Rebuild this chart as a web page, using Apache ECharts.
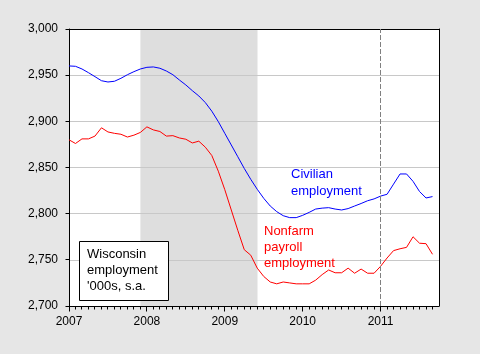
<!DOCTYPE html>
<html>
<head>
<meta charset="utf-8">
<script src="https://cdn.jsdelivr.net/npm/echarts@6/dist/echarts.min.js"></script>
<style>
  html, body { margin: 0; padding: 0; background: #e6e6e6; }
  #main { width: 480px; height: 354px; }
</style>
</head>
<body>
<div id="main"></div>
<script>
// monthly, Jan 2007 .. Sep 2011, thousands, s.a.
var startYear = 2007;
var civilian = [2960, 2959.6, 2956.7, 2952.7, 2948.4, 2944, 2942.6, 2943.4, 2946.6, 2950.5,
  2953.8, 2956.7, 2958.5, 2958.9, 2957.5, 2954.5, 2950.5, 2944.8, 2939.4, 2933.2,
  2927.5, 2920.3, 2911, 2899.7, 2887, 2874.4, 2861.7, 2849, 2837.2, 2826.4,
  2816.6, 2808.3, 2802.2, 2797.8, 2795.7, 2795.7, 2798.2, 2801.4, 2805, 2806,
  2806.5, 2805, 2804, 2805.5, 2808.3, 2811, 2814, 2816, 2819, 2821,
  2832, 2843, 2843, 2835, 2824, 2817, 2818.5];
var nonfarm = [2880, 2876, 2881, 2881, 2884, 2893, 2888.5, 2887, 2886, 2883,
  2885, 2888, 2894, 2890.7, 2889, 2884, 2884.5, 2882, 2880.6, 2876.6,
  2878.5, 2872, 2863, 2846, 2826, 2804, 2782, 2761, 2755, 2741,
  2732, 2726, 2724, 2726, 2725, 2724, 2724, 2724, 2728, 2734,
  2739, 2736, 2736, 2741, 2735.5, 2740, 2735.5, 2735.5, 2743, 2752,
  2760, 2762, 2763.5, 2775, 2768, 2767.5, 2756];
var yearTicks = [2007, 2008, 2009, 2010, 2011];
var yTicks = [2700, 2750, 2800, 2850, 2900, 2950, 3000];
var recession = [2007 + 11 / 12, 2009.42];   // Dec 2007 - Jun 2009
var markYear = 2011;
var xMax = 2011.75;
var yMin = 2700, yMax = 3000;

var civData = [], nfData = [], monthTicks = [];
for (var i = 0; i < civilian.length; i++) {
  var x = startYear + i / 12;
  monthTicks.push(x);
  civData.push([x, civilian[i]]);
  nfData.push([x, nonfarm[i]]);
}

var font = "'Liberation Sans', Arial, sans-serif";
var txt = function (s, x, y, color) {
  return { type: "text", x: x, y: y, z: 20,
    style: { text: s, fill: color, font: "13px " + font, verticalAlign: "middle" } };
};

var chart = echarts.init(document.getElementById("main"));
chart.setOption({
  animation: false,
  backgroundColor: "#e6e6e6",
  grid: {
    left: 69, top: 29, right: 41, bottom: 48,
    show: true, backgroundColor: "#fff", borderWidth: 0,
    containLabel: false, outerBoundsMode: "none"
  },
  xAxis: [
    {
      type: "value", min: startYear, max: xMax, z: 3,
      axisLine: { show: true, onZero: false, lineStyle: { color: "#000", width: 1 } },
      axisTick: { show: false },
      axisLabel: {
        customValues: yearTicks, color: "#000", fontSize: 12, fontFamily: font, margin: 10,
        formatter: function (v) { return String(Math.round(v)); }
      },
      splitLine: { show: false }
    },
    {
      type: "value", min: startYear, max: xMax, position: "top", z: 3,
      axisLine: { show: true, onZero: false, lineStyle: { color: "#000", width: 1 } },
      axisTick: { show: false }, axisLabel: { show: false }, splitLine: { show: false }
    }
  ],
  yAxis: [
    {
      type: "value", min: yMin, max: yMax, interval: 50, z: 3,
      axisLine: { show: true, onZero: false, lineStyle: { color: "#000", width: 1 } },
      axisTick: { show: false },
      axisLabel: {
        color: "#000", fontSize: 12, fontFamily: font, margin: 11,
        formatter: function (v) { return v.toLocaleString("en-US"); }
      },
      splitLine: { show: true, lineStyle: { color: "#c8c8c8", width: 1 } }
    },
    {
      type: "value", min: yMin, max: yMax, position: "right", z: 3,
      axisLine: { show: true, onZero: false, lineStyle: { color: "#000", width: 1 } },
      axisTick: { show: false }, axisLabel: { show: false }, splitLine: { show: false }
    }
  ],
  series: [
    {
      type: "line", data: [], z: 1, silent: true,
      markArea: {
        silent: true,
        itemStyle: { color: "#dedede" },
        data: [[{ xAxis: recession[0] }, { xAxis: recession[1] }]]
      },
      markLine: {
        silent: true, symbol: "none",
        label: { show: false },
        lineStyle: { color: "#808080", type: [5, 2], width: 1 },
        data: [{ xAxis: markYear }]
      }
    },
    {
      name: "Civilian employment", type: "line", data: civData, z: 4,
      showSymbol: false, lineStyle: { color: "#0000ff", width: 1 }
    },
    {
      name: "Nonfarm payroll employment", type: "line", data: nfData, z: 4,
      showSymbol: false, lineStyle: { color: "#ff0000", width: 1 }
    }
  ]
});

// outward ticks, placed through the axis scales
var ticks = [];
function tick(pt, dx, dy) {
  var px = Math.round(pt[0] - 0.5) + 0.5, py = Math.round(pt[1] - 0.5) + 0.5;
  ticks.push({ type: "line", z: 30, silent: true,
    shape: { x1: px, y1: py, x2: px + dx, y2: py + dy },
    style: { stroke: "#000", lineWidth: 1 } });
}
monthTicks.forEach(function (m) {
  tick(chart.convertToPixel({ gridIndex: 0 }, [m, yMin]), 0, 3);
});
yearTicks.forEach(function (y) {
  tick(chart.convertToPixel({ gridIndex: 0 }, [y, yMin]), 0, 5);
});
yTicks.forEach(function (v) {
  tick(chart.convertToPixel({ gridIndex: 0 }, [startYear, v]), -4, 0);
});

chart.setOption({
  graphic: ticks.concat([
    { type: "rect", x: 79, y: 241, z: 19, shape: { x: 0.5, y: 0.5, width: 89, height: 59 },
      style: { fill: "#fff", stroke: "#000", lineWidth: 1 } },
    txt("Wisconsin", 87, 254.5, "#000"),
    txt("employment", 87, 270.5, "#000"),
    txt("'000s, s.a.", 87, 286.5, "#000"),
    txt("Civilian", 291, 174, "#0000ff"),
    txt("employment", 291, 191, "#0000ff"),
    txt("Nonfarm", 264, 231, "#ff0000"),
    txt("payroll", 264, 247, "#ff0000"),
    txt("employment", 264, 263, "#ff0000")
  ])
});
</script>
</body>
</html>
